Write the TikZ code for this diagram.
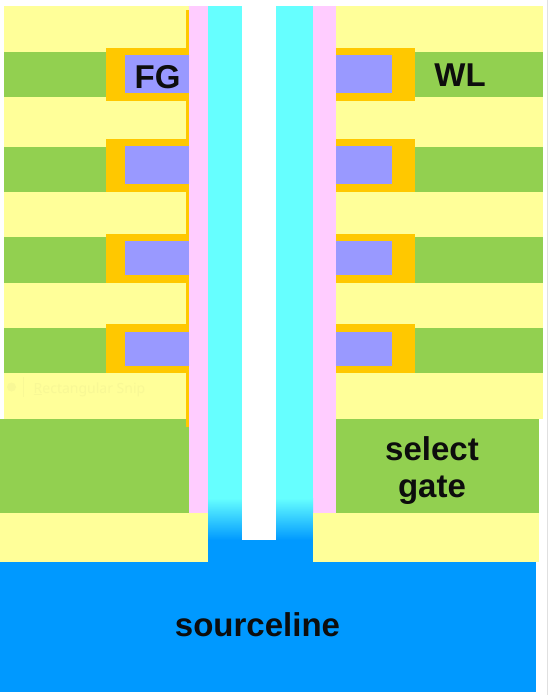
\documentclass[tikz,border=0pt]{standalone}
\usepackage{fontspec}
\setmainfont{Liberation Sans}
\newfontfamily\ghostfont{Noto Sans}
\definecolor{cyel}{HTML}{FFFF99}
\definecolor{cgrn}{HTML}{92D050}
\definecolor{corg}{HTML}{FFC800}
\definecolor{cpur}{HTML}{9999FF}
\definecolor{cpnk}{HTML}{FFCCFF}
\definecolor{ccyn}{HTML}{66FFFF}
\definecolor{cblu}{HTML}{0099FF}
\definecolor{cgho}{HTML}{F8F896}
\tikzset{
  lbl/.style={font=\bfseries\fontsize{33}{33}\selectfont, text=black!95, inner sep=0pt, anchor=base},
  ghost/.style={font=\ghostfont\fontsize{14}{15}\selectfont, text=cgho, inner sep=0pt, anchor=base west},
}
\begin{document}
\begin{tikzpicture}[x=1pt,y=-1pt]
\useasboundingbox (0,0) rectangle (550,695);
\fill[white] (0,0) rectangle (550,695);
\draw[black!12,line width=1pt] (547.5,0) -- (547.5,695);
% yellow layers
\fill[cyel] (4,6) rectangle (189,419);
\fill[cyel] (335,6) rectangle (543,419);
% thin oxide strip
\fill[corg] (185.5,10) rectangle (189,427);
% word-line rows: green top/bottom, orange top/bottom, purple top/bottom
\foreach \gt/\gb/\ot/\ob/\pt/\pb in {52/97/48/101/55/93, 147/192/139/192/146/184, 237/282.5/233.5/282.5/241/275, 328/373/324/373/332/366}{
  \fill[cgrn] (4,\gt) rectangle (106,\gb);
  \fill[cgrn] (415,\gt) rectangle (543,\gb);
  \fill[corg] (106,\ot) rectangle (189,\ob);
  \fill[corg] (335,\ot) rectangle (415,\ob);
  \fill[cpur] (125,\pt) rectangle (189,\pb);
  \fill[cpur] (335,\pt) rectangle (392,\pb);
}
% select gates
\fill[cgrn] (0,419) rectangle (185.5,513);
\fill[cgrn] (185.5,427) rectangle (189,513);
\fill[cgrn] (336,419) rectangle (539,513);
% pillar
\fill[cpnk] (189,6) rectangle (208,513);
\fill[cpnk] (313,6) rectangle (336,513);
\fill[ccyn] (208,6) rectangle (242,498);
\fill[ccyn] (276,6) rectangle (313,498);
\shade[top color=ccyn,bottom color=cblu,shading angle=0] (208,498) rectangle (313,540);
\fill[white] (242,6) rectangle (276,540);
% lower yellow
\fill[cyel] (0,513) rectangle (208,562);
\fill[cyel] (313,513) rectangle (539,562);
% sourceline
\fill[cblu] (208,540) rectangle (313,562);
\fill[cblu] (0,562) rectangle (536,691.5);
% texts
\node[lbl] (fg) at (157.5,89) {FG};
\node[lbl] (wl) at (460,87) {WL};
\node[lbl] (sel) at (432,460) {select};
\node[lbl] (gate) at (432,497) {gate};
\node[lbl] (src) at (257.5,636) {sourceline};
\fill[cgho] (11.5,387) circle (4.5);
\draw[cgho,line width=0.5pt] (23,377) -- (23,397);
\node[ghost] (snip) at (33.5,393) {\underline{R}ectangular Snip};
\end{tikzpicture}
\end{document}
